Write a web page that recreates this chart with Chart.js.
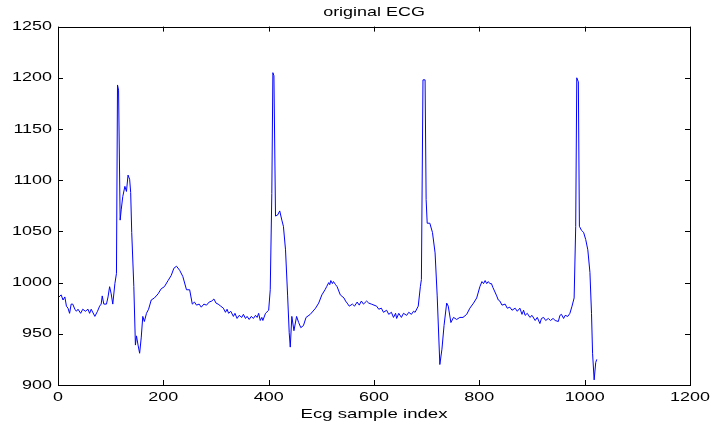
<!DOCTYPE html>
<html>
<head>
<meta charset="utf-8">
<script src="https://cdn.jsdelivr.net/npm/chart.js@4/dist/chart.umd.min.js"></script>
<style>
html,body{margin:0;padding:0;background:#fff;}
#wrap{width:728px;height:427px;}
</style>
</head>
<body>
<div id="wrap"><canvas id="c" width="728" height="427"></canvas></div>
<script>
const titleText = 'original ECG';
const xLabel = 'Ecg sample index';
const xTicks = [0, 200, 400, 600, 800, 1000, 1200];
const yTicks = [900, 950, 1000, 1050, 1100, 1150, 1200, 1250];

const sampleIndex = [0,6,9.5,13,16,19,22,25,28,32,35,38,43,47,52,57,60,63,70,75,79,82,84,87,92,95,98,101,104,108,111,113,115,118,120,123,127,130,133,136,138,140,144,147,149,152,155,158,161,164,168,172,177,183,190,196,202,209,215,220,225,231,237,244,250,
255,259,263,268,272,277,282,287,292,296,300,304,309,
314,318,321,324,328,333,336,340,344,349,352,356,359,363,367,371,375,378,381,384,387,389,394,400,
403,406,408,410,413,417,421,425,428,432,436,439,441,444,448,453,457,461,466,471,479,489,495,501,
507,510,514,516,518,521,523,527,530,536,
543,546,549,553,559,563,568,572,576,580,586,590,595,
605,609,614,618,624,628,633,637,641,643,647,652,656,662,666,671,675,678,684,
688,690,693,697,699,701,706,711,716,720,725,729,733,738,741,746,751,757,763,769,776,782,789,795,
801,805,808,811,814,817,820,823,826,
833,836,839,843,849,853,858,862,868,872,
877,881,884,887,891,896,900,906,910,915,918,922,926,931,935,940,944,950,953,956,960,963,968,972,
976,980,983,985,988,990,994,998,1002,1006,1010,1013,1015,1018,1021,1023];

const ecgValue = [985,988,983,986,977,975,970,979,979,974,972,974,970,974,972,974,970,974,967,972,977,979,987,979,979,986,996,989,979,999,1009,1193,1188,1061,1071,1084,1094,1089,1105,1101,1088,1049,996,939,948,939,931,946,967,962,970,974,983,985,989,994,996,1002,1007,1014,1016,1012,1006,993,993,
979,981,978,979,976,979,978,981,982,984,980,979,977,
975,971,974,970,972,967,970,965,968,966,969,965,967,964,967,965,968,966,970,963,966,963,970,973,
993,1087,1205,1202,1065,1066,1070,1061,1055,1032,987,951,937,967,953,967,961,956,958,966,969,975,980,988,
993,996,1000,998,1002,999,1001,998,996,988,
985,982,980,977,979,977,981,978,982,979,982,980,979,
977,974,975,971,973,969,971,966,970,965,970,966,970,968,971,969,972,971,977,
996,1003,1198,1198,1081,1058,1058,1049,1029,987,920,935,958,980,977,961,966,964,966,966,969,975,980,985,
996,1001,999,1002,999,1001,999,999,995,
987,983,982,978,979,975,976,973,975,972,
975,969,973,968,970,966,968,963,966,960,965,966,963,965,963,965,963,962,968,969,965,968,967,970,
977,985,1055,1200,1196,1055,1051,1049,1042,1032,1010,970,931,905,922,925];

const points = sampleIndex.map((x, i) => ({x: x, y: ecgValue[i]}));

// The reference's lettering is horizontally stretched; widen each glyph run about its anchor.
const TEXT_STRETCH = 1.38;
const canvas = document.getElementById('c');
const ctx0 = canvas.getContext('2d');
const origFill = ctx0.fillText.bind(ctx0);
ctx0.fillText = function(t, x, y, mw) {
  this.save();
  this.translate(x, y);
  this.scale(TEXT_STRETCH, 1);
  origFill(t, 0, 0);
  this.restore();
};

const boxTicks = {
  id: 'boxTicks',
  afterDraw(chart) {
    const ctx = chart.ctx, a = chart.chartArea;
    const xs = chart.scales.x, ys = chart.scales.y;
    ctx.save();
    ctx.strokeStyle = '#000';
    ctx.lineWidth = 1;
    ctx.strokeRect(Math.round(a.left) + 0.5, Math.round(a.top) + 0.5, Math.round(a.right - a.left), Math.round(a.bottom - a.top));
    const L = 5;
    ctx.beginPath();
    xTicks.forEach(v => {
      const p = Math.round(xs.getPixelForValue(v)) + 0.5;
      ctx.moveTo(p, a.bottom); ctx.lineTo(p, a.bottom - L);
      ctx.moveTo(p, a.top); ctx.lineTo(p, a.top + L);
    });
    yTicks.forEach(v => {
      const p = Math.round(ys.getPixelForValue(v)) + 0.5;
      ctx.moveTo(a.left, p); ctx.lineTo(a.left + L, p);
      ctx.moveTo(a.right, p); ctx.lineTo(a.right - L, p);
    });
    ctx.stroke();
    ctx.restore();
  }
};

const FONT = "'Liberation Sans', Arial, sans-serif";

new Chart(canvas, {
  type: 'line',
  data: {
    datasets: [{
      data: points,
      borderColor: '#0000ff',
      borderWidth: 1,
      pointRadius: 0,
      tension: 0,
      fill: false
    }]
  },
  options: {
    responsive: false,
    animation: false,
    layout: {padding: {top: 0, right: 38, left: 0, bottom: 0}},
    plugins: {
      legend: {display: false},
      tooltip: {enabled: false},
      title: {
        display: true,
        text: titleText,
        color: '#000',
        fullSize: false,
        font: {family: FONT, size: 13, weight: 'normal'},
        padding: {top: 5, bottom: 6}
      }
    },
    scales: {
      x: {
        type: 'linear',
        min: 0, max: 1200,
        afterFit(s) { s.height = 42; },
        afterBuildTicks(s) { s.ticks = xTicks.map(v => ({value: v})); },
        grid: {display: false, drawTicks: false},
        border: {display: false},
        ticks: {color: '#000', font: {family: FONT, size: 13}, padding: 5, maxRotation: 0,
                callback: v => String(v)},
        title: {display: true, text: xLabel, color: '#000', font: {family: FONT, size: 13.5}, padding: {top: 0, bottom: 5}}
      },
      y: {
        type: 'linear',
        min: 900, max: 1250,
        afterFit(s) { s.width = 58; },
        afterBuildTicks(s) { s.ticks = yTicks.map(v => ({value: v})); },
        grid: {display: false, drawTicks: false},
        border: {display: false},
        ticks: {color: '#000', font: {family: FONT, size: 13}, padding: 6,
                callback: v => String(v)}
      }
    }
  },
  plugins: [boxTicks]
});
</script>
</body>
</html>
